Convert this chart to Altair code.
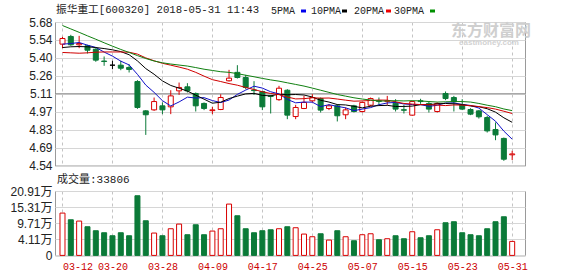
import json
import altair as alt
import pandas as pd
import numpy as np

# ---------------- data ----------------
dates = ["03-12","03-13","03-14","03-15","03-16","03-19","03-20","03-21","03-22","03-23",
         "03-26","03-27","03-28","03-29","03-30","04-02","04-03","04-04","04-09","04-10",
         "04-11","04-12","04-13","04-16","04-17","04-18","04-19","04-20","04-23","04-24",
         "04-25","04-26","04-27","05-02","05-03","05-04","05-07","05-08","05-09","05-10",
         "05-11","05-14","05-15","05-16","05-17","05-18","05-21","05-22","05-23","05-24",
         "05-25","05-28","05-29","05-30","05-31"]

opens = [5.504, 5.565, 5.499, 5.491, 5.464, 5.370, 5.337, 5.337, 5.319, 5.207,
         4.974, 4.982, 5.014, 5.006, 5.133, 5.165, 5.112, 5.033, 4.976, 4.985,
         5.213, 5.280, 5.239, 5.140, 5.128, 5.093, 5.063, 5.138, 4.929, 4.993,
         5.054, 5.072, 4.993, 5.014, 4.943, 5.014, 4.969, 5.019, 5.054, 5.050,
         5.035, 4.983, 4.940, 5.054, 5.033, 4.969, 5.112, 5.080, 5.022, 4.985,
         4.974, 4.921, 4.826, 4.755, 4.625]
highs = [5.562, 5.578, 5.570, 5.499, 5.472, 5.406, 5.372, 5.372, 5.345, 5.218,
         4.980, 5.080, 5.041, 5.138, 5.199, 5.194, 5.120, 5.041, 5.006, 5.106,
         5.300, 5.337, 5.260, 5.210, 5.133, 5.100, 5.173, 5.146, 5.022, 5.093,
         5.107, 5.080, 5.027, 5.027, 5.001, 5.022, 5.046, 5.080, 5.080, 5.093,
         5.067, 5.022, 5.054, 5.070, 5.048, 5.041, 5.128, 5.093, 5.067, 4.995,
         4.980, 4.935, 4.882, 4.762, 4.657]
lows = [5.472, 5.491, 5.472, 5.430, 5.364, 5.332, 5.305, 5.297, 5.279, 4.990,
        4.783, 4.974, 4.948, 4.948, 5.101, 5.120, 4.969, 4.980, 4.948, 4.980,
        5.207, 5.231, 5.146, 5.100, 4.980, 4.953, 5.054, 4.908, 4.908, 4.988,
        5.041, 4.961, 4.980, 4.890, 4.908, 4.961, 4.961, 5.010, 5.022, 5.022,
        4.969, 4.953, 4.935, 5.030, 4.961, 4.961, 5.059, 4.969, 4.980, 4.940,
        4.913, 4.802, 4.741, 4.577, 4.583]
closes = [5.549, 5.499, 5.509, 5.456, 5.377, 5.366, 5.337, 5.313, 5.303, 5.001,
          4.943, 5.048, 4.982, 5.093, 5.160, 5.133, 5.014, 4.993, 4.982, 5.080,
          5.234, 5.239, 5.160, 5.135, 5.006, 5.088, 5.154, 4.940, 5.001, 5.041,
          5.080, 4.980, 5.014, 4.935, 4.982, 4.969, 5.041, 5.072, 5.050, 5.054,
          4.988, 4.979, 5.048, 5.048, 4.988, 5.033, 5.072, 5.046, 4.988, 4.948,
          4.927, 4.815, 4.783, 4.590, 4.632]
volumes = [13.23, 10.91, 10.45, 8.48, 7.09, 6.39, 5.35, 6.39, 5.35, 19.26,
           10.56, 6.28, 5.35, 7.78, 9.40, 5.70, 9.17, 5.70, 6.97, 7.78,
           16.36, 12.30, 7.78, 6.39, 7.09, 7.43, 7.78, 8.48, 8.13, 5.93,
           5.00, 6.04, 3.84, 7.09, 5.00, 3.61, 5.70, 6.04, 3.96, 4.31,
           5.35, 4.31, 6.74, 4.65, 5.35, 7.43, 9.87, 10.22, 6.39, 5.70,
           5.35, 7.78, 10.22, 11.95, 3.38]

ma5 = [5.504, 5.509, 5.517, 5.496, 5.478, 5.441, 5.409, 5.369, 5.339, 5.264,
       5.179, 5.121, 5.055, 5.013, 5.045, 5.083, 5.076, 5.079, 5.056, 5.040,
       5.060, 5.105, 5.139, 5.170, 5.155, 5.126, 5.109, 5.065, 5.038, 5.044,
       5.043, 5.008, 5.023, 5.010, 4.998, 4.976, 4.988, 5.000, 5.023, 5.037,
       5.041, 5.029, 5.024, 5.024, 5.010, 5.019, 5.037, 5.037, 5.025, 5.017,
       4.996, 4.944, 4.892, 4.813, 4.749]
ma10 = [5.477, 5.483, 5.485, 5.483, 5.477, 5.469, 5.459, 5.445, 5.420, 5.371,
        5.310, 5.265, 5.212, 5.176, 5.154, 5.131, 5.099, 5.067, 5.035, 5.043,
        5.072, 5.091, 5.109, 5.113, 5.097, 5.093, 5.107, 5.102, 5.104, 5.100,
        5.084, 5.058, 5.044, 5.024, 5.021, 5.010, 4.998, 5.011, 5.016, 5.018,
        5.009, 5.009, 5.012, 5.023, 5.024, 5.030, 5.033, 5.030, 5.024, 5.013,
        5.007, 4.991, 4.964, 4.919, 4.883]
ma20 = [5.438, 5.435, 5.432, 5.435, 5.440, 5.442, 5.442, 5.442, 5.440, 5.425,
        5.395, 5.372, 5.352, 5.337, 5.322, 5.305, 5.280, 5.250, 5.222, 5.207,
        5.191, 5.178, 5.160, 5.144, 5.126, 5.112, 5.103, 5.084, 5.069, 5.071,
        5.078, 5.075, 5.076, 5.068, 5.059, 5.051, 5.053, 5.057, 5.060, 5.059,
        5.046, 5.033, 5.028, 5.024, 5.023, 5.020, 5.016, 5.021, 5.020, 5.016,
        5.008, 5.000, 4.988, 4.971, 4.953]
ma30 = [5.652, 5.625, 5.598, 5.570, 5.543, 5.515, 5.488, 5.462, 5.438, 5.413,
        5.390, 5.370, 5.356, 5.346, 5.338, 5.330, 5.318, 5.305, 5.295, 5.285,
        5.280, 5.270, 5.257, 5.245, 5.232, 5.220, 5.210, 5.197, 5.184, 5.171,
        5.155, 5.138, 5.121, 5.104, 5.091, 5.078, 5.068, 5.060, 5.052, 5.053,
        5.055, 5.053, 5.055, 5.053, 5.048, 5.044, 5.046, 5.048, 5.048, 5.044,
        5.033, 5.019, 5.007, 4.989, 4.976]

ma_names = ["5PMA", "10PMA", "20PMA", "30PMA"]
price_ticks = [4.54, 4.6825, 4.825, 4.9675, 5.11, 5.2525, 5.395, 5.5375, 5.68]
price_labels = ["4.54", "4.69", "4.83", "4.97", "5.11", "5.26", "5.40", "5.54", "5.68"]
ref_price = [5.11]
vol_ticks = [-1.49, 4.11, 9.71, 15.31, 20.91]
vol_labels = ["0", "4.11万", "9.71万", "15.31万", "20.91万"]
date_ticks = list(range(0, 55, 6))
title_text = ["振华重工[600320] 2018-05-31 11:43"]
vol_title = "成交量:33806"
watermark = ["东方财富网"]
watermark_sub = ["eastmoney.com"]

# ---------------- styling ----------------
RED = "#d80000"
GREEN = "#0b7a38"
BLACK = "#000000"
MA_COLORS = ["#1010c8", "#000000", "#d00000", "#108010"]
LEGEND_SWATCH = ["#0000ee", "#000000", "#ee0000", "#009000"]
MONO = "Liberation Mono, Noto Sans CJK SC"
SANS = "Liberation Sans, Noto Sans CJK SC"
GRID = "#d6d6d6"
VGRID = "#c4c4c4"
# legend layout (pixels relative to the price plot's top-left corner)
LEG_LABEL_X = [216, 256, 299, 339]
LEG_SWATCH_X = [246, 287, 331, 375]
LEG_Y = -11.5

n = len(dates)
idx = list(range(n))
df = pd.DataFrame({"i": idx, "date": dates, "open": opens, "high": highs,
                   "low": lows, "close": closes, "vol": volumes})
df["dir"] = np.where(df["close"] > df["open"], "up",
                     np.where(df["close"] < df["open"], "down", "flat"))
df["vdir"] = np.where(df["close"] > df["open"], "up", "down")

ma_df = pd.DataFrame({
    "i": idx * 4,
    "ma": sum([[m] * n for m in ma_names], []),
    "value": ma5 + ma10 + ma20 + ma30,
})

x_scale = alt.Scale(domain=[-0.3, 54.94], nice=False, zero=False)
dir_domain = ["up", "down", "flat"]
stroke_scale = alt.Scale(domain=dir_domain, range=[RED, GREEN, BLACK])
fill_scale = alt.Scale(domain=dir_domain, range=["#ffffff", GREEN, BLACK])

price_expr = json.dumps(price_labels) + "[round((datum.value - 4.54) / 0.1425)]"
vol_expr = json.dumps(vol_labels) + "[round((datum.value + 1.49) / 5.6)]"
date_expr = json.dumps(dates) + "[round(datum.value)]"

x_price_axis = alt.Axis(values=date_ticks, labels=False, ticks=False, domain=False,
                        grid=True, gridDash=[3, 3], gridColor=VGRID, title=None)
y_price_scale = alt.Scale(domain=[4.54, 5.68], nice=False, zero=False)
y_price_axis = alt.Axis(values=price_ticks, labelExpr=price_expr, title=None,
                        ticks=False, domain=False, grid=True, gridColor=GRID,
                        labelFont=SANS, labelFontSize=12, labelColor="#222222",
                        labelPadding=3)

def xp():
    return alt.X("i:Q", scale=x_scale, axis=x_price_axis)

base = alt.Chart(df)

refline = alt.Chart(pd.DataFrame({"y": ref_price})).mark_rule(
    color="#8c8c8c", strokeWidth=1
).encode(y=alt.Y("y:Q", scale=y_price_scale, axis=y_price_axis))

wick = base.mark_rule(strokeWidth=1).encode(
    x=xp(),
    y=alt.Y("low:Q", scale=y_price_scale, axis=y_price_axis),
    y2="high:Q",
    stroke=alt.Stroke("dir:N", scale=stroke_scale, legend=None),
)

body = base.mark_bar(size=5, strokeWidth=1).encode(
    x=xp(),
    y=alt.Y("open:Q", scale=y_price_scale, axis=y_price_axis),
    y2="close:Q",
    fill=alt.Fill("dir:N", scale=fill_scale, legend=None),
    stroke=alt.Stroke("dir:N", scale=stroke_scale, legend=None),
)

lines = alt.Chart(ma_df).mark_line(strokeWidth=1).encode(
    x=xp(),
    y=alt.Y("value:Q", scale=y_price_scale, axis=y_price_axis),
    color=alt.Color("ma:N", scale=alt.Scale(domain=ma_names, range=MA_COLORS),
                    sort=ma_names, legend=None),
)

title_mark = alt.Chart(pd.DataFrame({"t": title_text})).mark_text(
    font=MONO, fontSize=10.7, color="#222222", align="left", baseline="middle"
).encode(x=alt.value(1), y=alt.value(-12), text="t:N")

legend_layers = []
for k, name in enumerate(ma_names):
    one = pd.DataFrame({"t": [name]})
    legend_layers.append(
        alt.Chart(one).mark_text(font=MONO, fontSize=10, color="#222222",
                                 align="left", baseline="middle")
        .encode(x=alt.value(LEG_LABEL_X[k]), y=alt.value(LEG_Y), text="t:N"))
    legend_layers.append(
        alt.Chart(one).mark_rule(strokeWidth=3, color=LEGEND_SWATCH[k])
        .encode(x=alt.value(LEG_SWATCH_X[k]), x2=alt.value(LEG_SWATCH_X[k] + 5),
                y=alt.value(LEG_Y + 0.5)))

wm1 = alt.Chart(pd.DataFrame({"t": watermark})).mark_text(
    font=SANS, fontSize=16, fontWeight="bold", color="#cfcfcf", align="center", baseline="middle"
).encode(x=alt.value(436), y=alt.value(9), text="t:N")
wm2 = alt.Chart(pd.DataFrame({"t": watermark_sub})).mark_text(
    font=SANS, fontSize=8, fontWeight="bold", color="#d2d2d2", align="center", baseline="middle"
).encode(x=alt.value(434), y=alt.value(21), text="t:N")

price = alt.layer(refline, wick, body, lines, wm1, wm2, title_mark, *legend_layers).properties(
    width=470, height=143.5,
)

x_vol_axis = alt.Axis(values=date_ticks, labelExpr=date_expr, labelColor="#cc0000",
                      labelFont=MONO, labelFontSize=10, labelPadding=6,
                      ticks=False, domain=False, grid=True, gridDash=[3, 3],
                      gridColor=VGRID, title=None,
                      labelAlign={"condition": {"test": "datum.value == 0", "value": "left"},
                                  "value": "center"})
y_vol_axis = alt.Axis(values=vol_ticks, labelExpr=vol_expr, title=None, ticks=False,
                      domain=False, grid=True, gridColor=GRID, labelFont=SANS,
                      labelFontSize=12, labelColor="#222222", labelPadding=3)

vol = alt.Chart(df).mark_bar(size=5, strokeWidth=1).encode(
    x=alt.X("i:Q", scale=x_scale, axis=x_vol_axis),
    y=alt.Y("vol:Q", scale=alt.Scale(domain=[-1.49, 20.91], nice=False, zero=False),
            axis=y_vol_axis),
    y2=alt.datum(-1.49),
    fill=alt.Fill("vdir:N", scale=alt.Scale(domain=["up", "down"], range=["#ffffff", GREEN]),
                  legend=None),
    stroke=alt.Stroke("vdir:N", scale=alt.Scale(domain=["up", "down"], range=[RED, GREEN]),
                      legend=None),
).properties(
    width=470, height=64.4,
    title=alt.TitleParams(vol_title, anchor="start", frame="group", font=MONO,
                          fontSize=11, fontWeight="normal", color="#222222",
                          offset=0.5, dx=2),
)

chart = alt.vconcat(price, vol, spacing=1).properties(
    padding={"left": 9, "top": 3, "right": 0, "bottom": 0},
    background="#ffffff",
).configure_view(stroke="#9a9a9a", strokeWidth=1)

chart.save("out.html", embed_options={"renderer": "svg", "actions": False})
